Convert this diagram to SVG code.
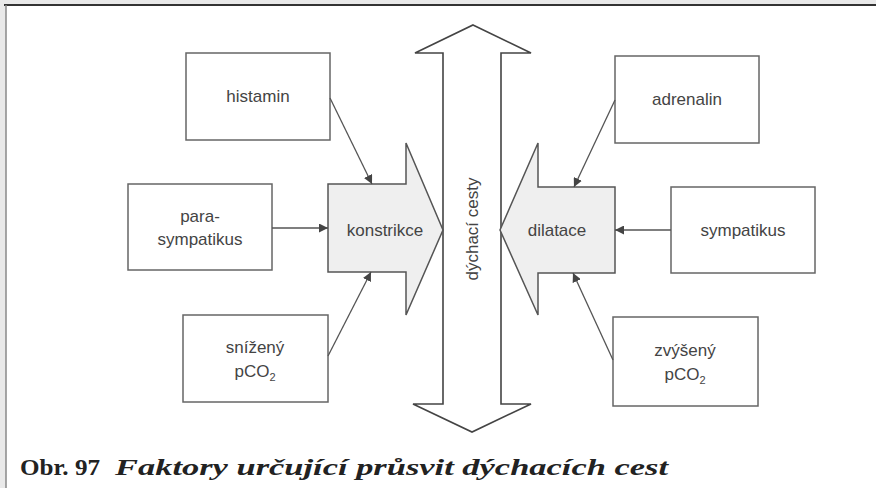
<svg xmlns="http://www.w3.org/2000/svg" width="876" height="488" viewBox="0 0 876 488">
<style>
.box{fill:#fff;stroke:#666;stroke-width:1.5}
.big{fill:#efefef;stroke:#555;stroke-width:1.5;stroke-linejoin:miter}
.dbl{fill:#fff;stroke:#444;stroke-width:1.6}
.lbl{font-family:"Liberation Sans",Arial,sans-serif;font-size:17px;fill:#444;text-anchor:middle}
.con line{stroke:#555;stroke-width:1.3}
</style>
<defs>
<marker id="ah" viewBox="0 0 10 10" refX="10" refY="5" markerWidth="9" markerHeight="9" markerUnits="userSpaceOnUse" orient="auto">
<path d="M0,0 L10,5 L0,10 Z" fill="#444"/>
</marker>
</defs>
<rect x="0" y="0" width="876" height="488" fill="#e9e9e9"/>
<rect x="6" y="5" width="870" height="483" fill="#fff"/>
<line x1="4" y1="5" x2="876" y2="5" stroke="#333" stroke-width="2"/>
<line x1="6" y1="5" x2="6" y2="488" stroke="#888" stroke-width="1.5"/>

<g id="airway">
<path class="dbl" d="M473,25 L531,53 L501,53 L501,404 L531,404 L472,432 L413,404 L443,404 L443,53 L415,53 Z"/>
<text class="lbl" transform="translate(478,229) rotate(-90)">dýchací cesty</text>
</g>

<g id="konstrikce">
<path class="big" d="M328,184 L406,184 L406,143 L443,230 L406,315 L406,272 L328,272 Z"/>
<text class="lbl" x="385" y="236">konstrikce</text>
</g>

<g id="dilatace">
<path class="big" d="M615,187 L538,187 L538,143 L500,230 L538,315 L538,273 L615,273 Z"/>
<text class="lbl" x="557" y="236">dilatace</text>
</g>

<g id="histamin">
<rect class="box" x="186" y="53" width="144" height="87"/>
<text class="lbl" x="258" y="102">histamin</text>
</g>

<g id="parasympatikus">
<rect class="box" x="128" y="184" width="144" height="86"/>
<text class="lbl" x="200" y="222">para-</text>
<text class="lbl" x="200" y="245">sympatikus</text>
</g>

<g id="snizeny">
<rect class="box" x="183" y="315" width="145" height="87"/>
<text class="lbl" x="255" y="353">snížený</text>
<text class="lbl" x="255" y="377">pCO<tspan font-size="11" dy="4">2</tspan></text>
</g>

<g id="adrenalin">
<rect class="box" x="615" y="56" width="144" height="87"/>
<text class="lbl" x="687" y="105">adrenalin</text>
</g>

<g id="sympatikus">
<rect class="box" x="671" y="187" width="144" height="86"/>
<text class="lbl" x="743" y="236">sympatikus</text>
</g>

<g id="zvyseny">
<rect class="box" x="613" y="317" width="145" height="89"/>
<text class="lbl" x="685" y="356">zvýšený</text>
<text class="lbl" x="685" y="380">pCO<tspan font-size="11" dy="4">2</tspan></text>
</g>

<g class="con" id="connectors">
<line x1="330" y1="98" x2="372" y2="184" marker-end="url(#ah)"/>
<line x1="272" y1="228" x2="328" y2="228" marker-end="url(#ah)"/>
<line x1="328" y1="356" x2="371" y2="272" marker-end="url(#ah)"/>
<line x1="615" y1="100" x2="574" y2="187" marker-end="url(#ah)"/>
<line x1="671" y1="230" x2="615" y2="230" marker-end="url(#ah)"/>
<line x1="613" y1="360" x2="573" y2="273" marker-end="url(#ah)"/>
</g>

<text x="20" y="475" font-family="'Liberation Serif','Times New Roman',serif" font-size="23" font-weight="bold" fill="#222"><tspan textLength="80" lengthAdjust="spacingAndGlyphs">Obr. 97</tspan><tspan x="115" font-style="italic" textLength="553" lengthAdjust="spacingAndGlyphs">Faktory určující průsvit dýchacích cest</tspan></text>
</svg>
